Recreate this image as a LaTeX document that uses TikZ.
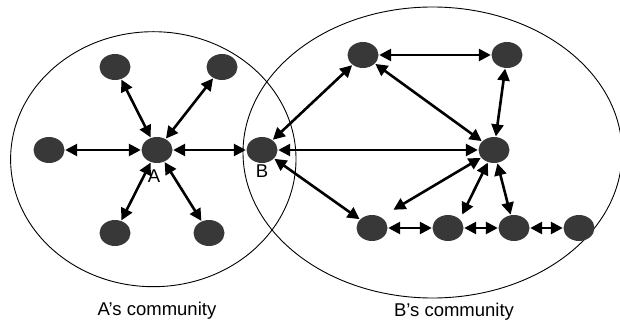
\documentclass[tikz,border=0pt]{standalone}
\usepackage{fontspec}
\setmainfont{Liberation Sans}
\usetikzlibrary{arrows.meta,shapes.geometric}
\definecolor{nodegray}{HTML}{383838}
\begin{document}
\begin{tikzpicture}[x=1pt,y=-1pt,
  dot/.style={shape=ellipse,minimum width=31pt,minimum height=26pt,inner sep=0pt,fill=nodegray,draw=none},
  link/.style={{Triangle[length=12pt,width=12pt]}-{Triangle[length=12pt,width=12pt]},line width=2.6pt,shorten <=0.5pt,shorten >=0.5pt},
  comm/.style={line width=0.9pt},
  lbl/.style={font=\fontsize{18.5}{21}\selectfont,inner sep=0pt,anchor=base}
]
\useasboundingbox (0,0) rectangle (620,320);
\clip (0,0) rectangle (620,320);
% communities
\draw[comm] (153.3,159.2) ellipse [x radius=142.7pt, y radius=127.5pt];
\draw[comm] (432.5,152.5) ellipse [x radius=189.5pt, y radius=145.5pt];
% A's community nodes
\node[dot] (A)  at (157,150) {};
\node[dot] (L)  at (49,150) {};
\node[dot] (TL) at (115,67) {};
\node[dot] (TR) at (222,67) {};
\node[dot] (BL) at (115,233) {};
\node[dot] (BR) at (209,233) {};
% B's community nodes
\node[dot] (B)  at (262,150) {};
\node[dot] (T1) at (363,55) {};
\node[dot] (T2) at (507,55) {};
\node[dot] (M)  at (494,150) {};
\node[dot] (b1) at (372,228) {};
\node[dot] (b2) at (448,228) {};
\node[dot] (b3) at (514,228) {};
\node[dot] (b4) at (579,228) {};
\coordinate (f1) at (393,210);
\coordinate (f2) at (462,215);
% labels
\node[lbl] (la) at (154,183) {A};
\node[lbl] (lb) at (262,178) {B};
\node[lbl] (ca) at (157,315) {A’s community};
\node[lbl] (cb) at (454,316) {B’s community};
% connectors
\draw[link] (L) -- (A);
\draw[link] (TL) -- (A);
\draw[link] (TR) -- (A);
\draw[link] (BL) -- (A);
\draw[link] (BR) -- (A);
\draw[link] (A) -- (B);
\draw[link] (B) -- (T1);
\draw[link] (B) -- (M);
\draw[link] (B) -- (b1);
\draw[link] (T1) -- (T2);
\draw[link] (T1) -- (M);
\draw[link] (T2) -- (M);
\draw[link] (M) -- (f1);
\draw[link] (M) -- (f2);
\draw[link] (M) -- (b3);
\draw[link] (b1) -- (b2);
\draw[link] (b2) -- (b3);
\draw[link] (b3) -- (b4);
\end{tikzpicture}
\end{document}
